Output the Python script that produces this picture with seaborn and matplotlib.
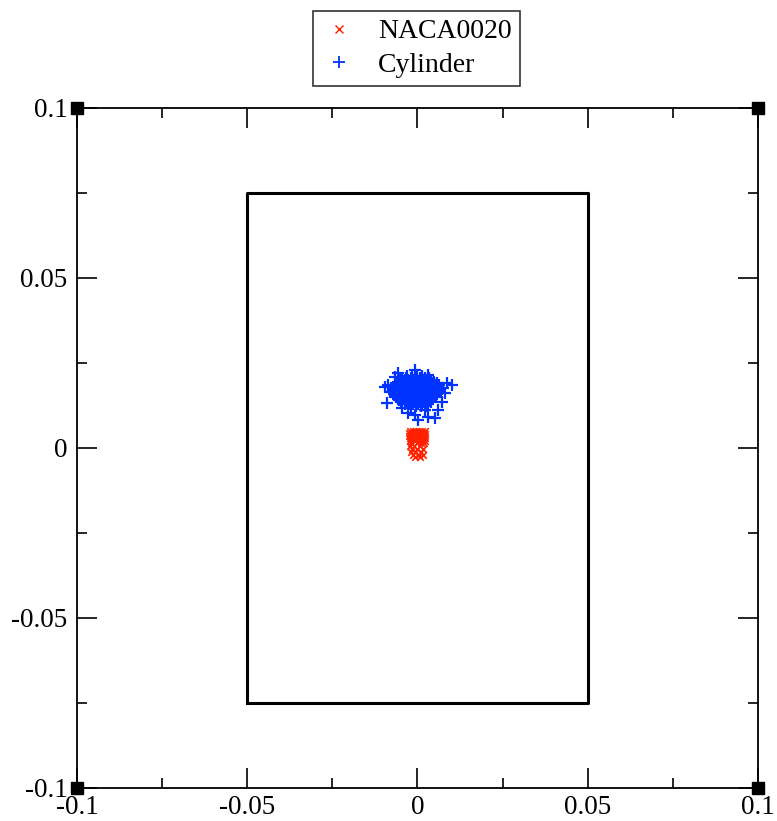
import matplotlib
matplotlib.use("Agg")
import matplotlib.pyplot as plt
import pandas as pd
import seaborn as sns
from matplotlib.ticker import MultipleLocator
from matplotlib.lines import Line2D

# NACA0020 particle positions, one row of samples per y level
naca_rows_y = [0.0050, 0.0045, 0.0040, 0.0035, 0.0030, 0.0025, 0.0020, 0.0014,
               0.0005, -0.0003, -0.0012, -0.0020, -0.0028]
naca_rows_x = [
    [-0.0022, -0.0013, -0.0004, 0.0005, 0.0014, 0.0022],
    [-0.0025, -0.0017, -0.0008, 0.0001, 0.0010, 0.0019],
    [-0.0023, -0.0014, -0.0005, 0.0004, 0.0013, 0.0022],
    [-0.0024, -0.0016, -0.0007, 0.0002, 0.0011, 0.0020],
    [-0.0022, -0.0013, -0.0004, 0.0005, 0.0014, 0.0021],
    [-0.0020, -0.0010, -0.0001, 0.0008, 0.0017],
    [-0.0023, -0.0006, 0.0003, 0.0012, 0.0021],
    [-0.0018, -0.0001, 0.0009, 0.0018],
    [-0.0021, -0.0009, 0.0006],
    [-0.0015, 0.0000, 0.0015],
    [-0.0019, -0.0006, 0.0009],
    [-0.0013, 0.0003, 0.0017],
    [-0.0008, 0.0008],
]

# Cylinder particle positions: dense core rows plus scattered outliers
cyl_rows_y = [0.0212, 0.0205, 0.0200, 0.0195, 0.0190, 0.0185, 0.0180, 0.0175,
              0.0170, 0.0165, 0.0160, 0.0155, 0.0150, 0.0145, 0.0140, 0.0135,
              0.0130, 0.0124]
cyl_rows_x = [
    [-0.0030, -0.0016, -0.0002, 0.0012],
    [-0.0045, -0.0033, -0.0019, -0.0006, 0.0008, 0.0021, 0.0034],
    [-0.0052, -0.0038, -0.0027, -0.0014, -0.0002, 0.0011, 0.0024, 0.0040],
    [-0.0058, -0.0049, -0.0036, -0.0025, -0.0012, 0.0001, 0.0013, 0.0026, 0.0038, 0.0048],
    [-0.0064, -0.0057, -0.0044, -0.0031, -0.0019, -0.0007, 0.0006, 0.0018, 0.0031, 0.0045, 0.0056],
    [-0.0066, -0.0050, -0.0037, -0.0025, -0.0012, 0.0000, 0.0013, 0.0025, 0.0038, 0.0051, 0.0064],
    [-0.0068, -0.0055, -0.0043, -0.0030, -0.0018, -0.0005, 0.0007, 0.0020, 0.0032, 0.0044, 0.0056],
    [-0.0070, -0.0061, -0.0049, -0.0036, -0.0024, -0.0011, 0.0001, 0.0014, 0.0026, 0.0039, 0.0051, 0.0062],
    [-0.0071, -0.0056, -0.0043, -0.0031, -0.0018, -0.0006, 0.0007, 0.0019, 0.0032, 0.0045, 0.0059],
    [-0.0070, -0.0062, -0.0050, -0.0037, -0.0025, -0.0012, 0.0000, 0.0013, 0.0025, 0.0038, 0.0051, 0.0061],
    [-0.0069, -0.0055, -0.0043, -0.0030, -0.0018, -0.0005, 0.0007, 0.0020, 0.0032, 0.0044, 0.0058],
    [-0.0066, -0.0049, -0.0037, -0.0024, -0.0011, 0.0001, 0.0014, 0.0026, 0.0039, 0.0055],
    [-0.0063, -0.0043, -0.0031, -0.0018, -0.0006, 0.0007, 0.0019, 0.0032, 0.0050],
    [-0.0058, -0.0037, -0.0024, -0.0012, 0.0001, 0.0013, 0.0026, 0.0044],
    [-0.0053, -0.0031, -0.0018, -0.0005, 0.0008, 0.0021, 0.0038],
    [-0.0047, -0.0035, -0.0021, -0.0008, 0.0005, 0.0018, 0.0029, 0.0040],
    [-0.0038, -0.0025, -0.0012, 0.0002, 0.0014, 0.0030],
    [-0.0020, -0.0005, 0.0010, 0.0024],
]
cyl_out_x = [-0.0007, 0.0101, 0.0087, -0.0090, -0.0081, 0.0031, 0.0001, 0.0051,
             -0.0028, 0.0022, -0.0066, 0.0031, 0.0072, 0.0081, -0.0046, -0.0094,
             -0.0057, -0.0007, 0.0060, 0.0075, -0.0087]
cyl_out_y = [0.0229, 0.0185, 0.0191, 0.0132, 0.0165, 0.0091, 0.0082, 0.0088,
             0.0103, 0.0112, 0.0209, 0.0215, 0.0135, 0.0162, 0.0118, 0.0180,
             0.0221, 0.0097, 0.0112, 0.0176, 0.0185]

# Domain outline and corner markers
rect_x = [-0.05, 0.05, 0.05, -0.05, -0.05]
rect_y = [-0.075, -0.075, 0.075, 0.075, -0.075]
corner_x = [-0.1, 0.1, -0.1, 0.1]
corner_y = [0.1, 0.1, -0.1, -0.1]

ticks = [-0.1, -0.05, 0, 0.05, 0.1]
tick_labels = ["-0.1", "-0.05", "0", "0.05", "0.1"]
series_names = ["NACA0020", "Cylinder"]

red = "#ff2000"
blue = "#0033ff"


def flatten(rows_y, rows_x):
    xs, ys = [], []
    for yv, row in zip(rows_y, rows_x):
        xs.extend(row)
        ys.extend([yv] * len(row))
    return xs, ys


nx, ny = flatten(naca_rows_y, naca_rows_x)
cx, cy = flatten(cyl_rows_y, cyl_rows_x)
naca = pd.DataFrame({"x": nx, "y": ny})
cyl = pd.DataFrame({"x": cx + cyl_out_x, "y": cy + cyl_out_y})

sns.set_theme(style="white")
plt.rcParams['font.family'] = ['Liberation Serif', 'DejaVu Serif']
plt.rcParams['text.color'] = 'black'

fig = plt.figure(figsize=(7.77, 8.21), dpi=100)
ax = fig.add_axes([0.0991, 0.0402, 0.8764, 0.8283])

ax.plot(rect_x, rect_y, color="black", lw=2.2, zorder=1)
sns.scatterplot(data=naca, x="x", y="y", marker="x", color=red, s=22,
                linewidth=1.2, ax=ax, zorder=3)
sns.scatterplot(data=cyl, x="x", y="y", marker="+", color=blue, s=64,
                linewidth=1.6, ax=ax, zorder=3)
ax.plot(corner_x, corner_y, ls="none", marker="s", ms=8.5, color="black",
        clip_on=False, zorder=5)

ax.set_xlim(-0.1, 0.1)
ax.set_ylim(-0.1, 0.1)
ax.set_xticks(ticks)
ax.set_xticklabels(tick_labels)
ax.set_yticks(ticks)
ax.set_yticklabels(tick_labels)
ax.xaxis.set_minor_locator(MultipleLocator(0.025))
ax.yaxis.set_minor_locator(MultipleLocator(0.025))
ax.tick_params(which="both", direction="in", top=True, right=True,
               bottom=True, left=True, color="black", width=1.2,
               labelsize=19.5, labelcolor="black")
ax.tick_params(which="major", length=14.5)
ax.tick_params(which="minor", length=7.2)
ax.tick_params(axis="x", which="major", pad=5)
ax.tick_params(axis="y", which="major", pad=7)
ax.set_xlabel("")
ax.set_ylabel("")
ax.grid(False)
for sp in ax.spines.values():
    sp.set_color("black")
    sp.set_linewidth(1.3)

handles = [
    Line2D([], [], ls="none", marker="x", color=red, ms=5.5, mew=1.0),
    Line2D([], [], ls="none", marker="+", color=blue, ms=9, mew=1.3),
]
leg = fig.legend(handles, series_names, loc="upper center",
                 bbox_to_anchor=(0.536, 0.987), fontsize=20, frameon=True,
                 fancybox=False, edgecolor="black", handlelength=1.3,
                 handletextpad=0.75, borderpad=0.3, labelspacing=0.28,
                 borderaxespad=0, labelcolor="black")
leg.get_frame().set_linewidth(1.2)

fig.savefig("out.png", dpi=100)
